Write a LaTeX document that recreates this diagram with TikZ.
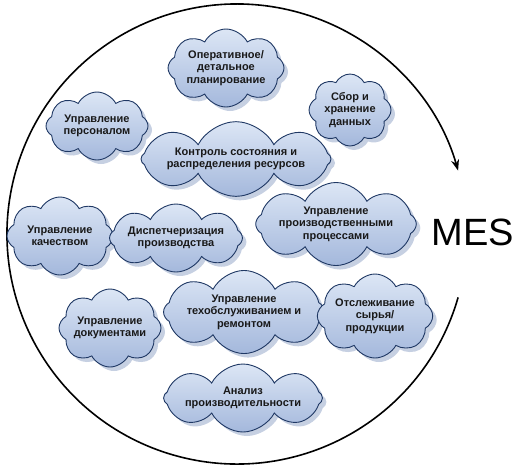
\documentclass[tikz,border=0pt]{standalone}
\usepackage{fontspec}
\setmainfont{Liberation Sans}
\usepackage{xcolor}
\usetikzlibrary{arrows.meta,shapes.symbols,shadows}
\definecolor{cloudline}{RGB}{31,56,100}
\definecolor{cloudtop}{RGB}{220,230,245}
\definecolor{cloudbot}{RGB}{164,184,220}
\definecolor{cloudshadow}{RGB}{160,176,206}

\begin{document}
\begin{tikzpicture}[x=1pt,y=1pt,
  task/.style={cloud,cloud puffs=8,cloud puff arc=125,cloud ignores aspect,
               draw=cloudline,line width=0.9pt,top color=cloudtop,bottom color=cloudbot,
               drop shadow={shadow xshift=4pt,shadow yshift=-4pt,fill=cloudshadow,opacity=0.6},
               align=center,inner sep=0pt,text=black!90,
               font=\fontsize{11}{12.5}\selectfont\bfseries},
  loop/.style={-{Stealth[length=11pt,width=8pt]},line width=1.6pt},
]
\useasboundingbox (0,0) rectangle (518,-467);
\coordinate (c) at (237,-234);
\draw[loop] ([shift={(-16:230pt)}]c) arc[start angle=-16,end angle=-344,radius=230pt];

\node[task,minimum width=116pt,minimum height=78pt] (plan)  at (226,-68)  {Оперативное/\\детальное\\планирование};
\node[task,minimum width=102pt,minimum height=68pt] (staff) at (97,-126)  {Управление\\персоналом};
\node[task,minimum width=82pt, minimum height=72pt] (data)  at (350,-110) {Сбор и\\хранение\\данных};
\node[task,minimum width=190pt,minimum height=58pt] (res)   at (236,-159) {Контроль состояния и\\распределения ресурсов};
\node[task,minimum width=106pt,minimum height=78pt] (qual)  at (60,-236)  {Управление\\качеством};
\node[task,minimum width=120pt,minimum height=68pt] (disp)  at (176,-238) {Диспетчеризация\\производства};
\node[task,minimum width=152pt,minimum height=74pt] (proc)  at (336,-224) {Управление\\производственными\\процессами};
\node[task,minimum width=102pt,minimum height=78pt] (docs)  at (110,-328) {Управление\\документами};
\node[task,minimum width=150pt,minimum height=78pt] (maint) at (244,-312) {Управление\\техобслуживанием и\\ремонтом};
\node[task,minimum width=112pt,minimum height=84pt] (track) at (375,-316) {Отслеживание\\сырья/\\продукции};
\node[task,minimum width=150pt,minimum height=68pt] (perf)  at (243,-398) {Анализ\\производительности};

\node[font=\fontsize{38}{40}\selectfont] (mes) at (473,-232) {MES};
\end{tikzpicture}
\end{document}
